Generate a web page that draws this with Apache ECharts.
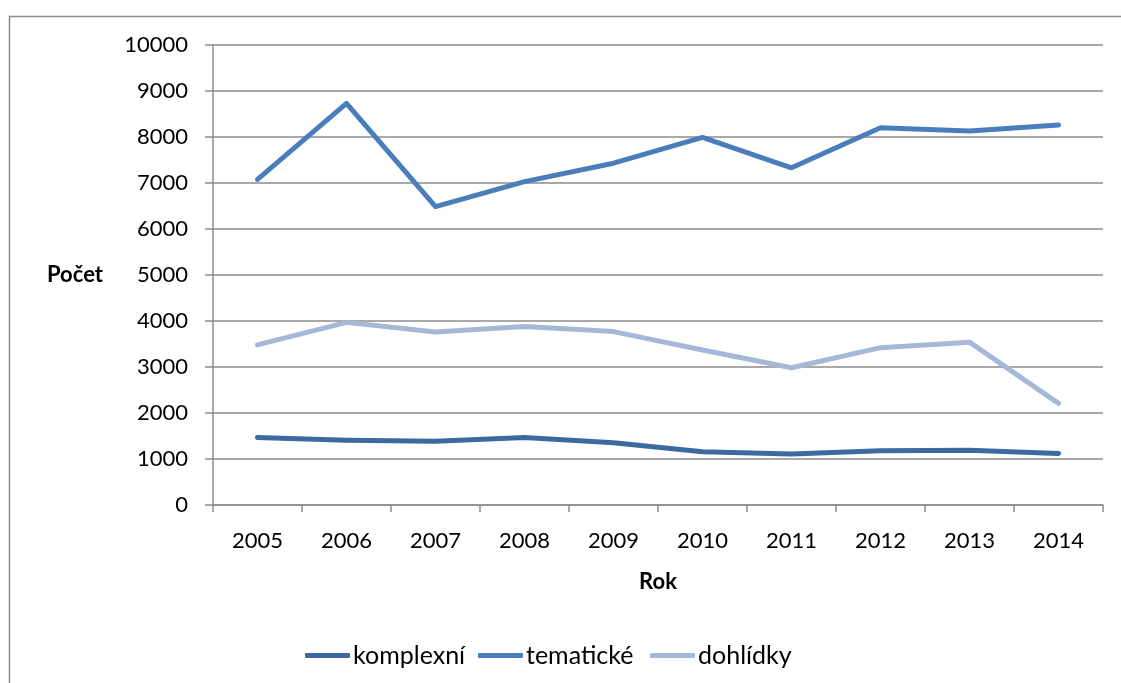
<!DOCTYPE html>
<html><head><meta charset="utf-8">
<script src="https://cdn.jsdelivr.net/npm/echarts@6/dist/echarts.min.js"></script>
<style>html,body{margin:0;padding:0;background:#fff}#c{width:1121px;height:683px}</style>
</head><body><div id="c"></div>
<script>
const years = ['2005','2006','2007','2008','2009','2010','2011','2012','2013','2014'];
const komplexni = [1470, 1410, 1385, 1465, 1355, 1160, 1110, 1180, 1190, 1120];
const tematicke = [7080, 8730, 6485, 7030, 7430, 7990, 7330, 8200, 8130, 8260];
const dohlidky = [3480, 3970, 3760, 3880, 3770, 3370, 2985, 3420, 3540, 2210];
const seriesNames = ['komplexní', 'tematické', 'dohlídky'];
const colors = ['#3D6A9E', '#4A7EBB', '#A5B8D7'];

const font = 'Lato, Liberation Sans, Arial, sans-serif';
const chart = echarts.init(document.getElementById('c'), null, {renderer: 'canvas'});
const mk = (name, data, color) => ({
  name, type: 'line', data, symbol: 'none', smooth: false,
  lineStyle: {color, width: 5, cap: 'round', join: 'round'},
  itemStyle: {color}
});
const legendLefts = [300, 473, 645];
const mkLegend = (i) => ({
  left: legendLefts[i], top: 638, itemWidth: 45, itemHeight: 5,
  icon: 'roundRect',
  textStyle: {fontSize: 25, color: '#000', fontFamily: font, padding: [0, 0, 0, -2]},
  data: [seriesNames[i]]
});
chart.setOption({
  animation: false,
  backgroundColor: '#fff',
  textStyle: {fontFamily: font},
  graphic: [{
    type: 'rect', shape: {x: 9.5, y: 16.5, width: 1130, height: 700},
    style: {fill: 'none', stroke: '#8c8c8c', lineWidth: 1.5}, silent: true, z: -1
  }, {
    type: 'text', left: 47, top: 264,
    style: {text: 'Počet', font: 'bold 22px ' + font, fill: '#000'}
  }],
  grid: {left: 213, right: 18, top: 45, bottom: 178, containLabel: false},
  legend: [mkLegend(0), mkLegend(1), mkLegend(2)],
  xAxis: {
    type: 'category', data: years, boundaryGap: true,
    name: 'Rok', nameLocation: 'middle', nameGap: 66,
    nameTextStyle: {fontSize: 22, fontWeight: 'bold', color: '#000', fontFamily: font},
    axisLine: {lineStyle: {color: '#8c8c8c', width: 1.5}},
    axisTick: {show: true, length: 7, lineStyle: {color: '#8c8c8c', width: 1.5}},
    axisLabel: {fontSize: 22, color: '#000', margin: 25, fontFamily: font},
    splitLine: {show: false}
  },
  yAxis: {
    type: 'value', min: 0, max: 10000, interval: 1000,
    axisLine: {show: true, lineStyle: {color: '#8c8c8c', width: 1.5}},
    axisTick: {show: true, length: 8, lineStyle: {color: '#8c8c8c', width: 1.5}},
    axisLabel: {fontSize: 22, color: '#000', margin: 25, fontFamily: font, formatter: v => String(v)},
    splitLine: {show: true, lineStyle: {color: '#8c8c8c', width: 1.5}}
  },
  series: [
    mk(seriesNames[0], komplexni, colors[0]),
    mk(seriesNames[1], tematicke, colors[1]),
    mk(seriesNames[2], dohlidky, colors[2])
  ]
});
</script></body></html>
